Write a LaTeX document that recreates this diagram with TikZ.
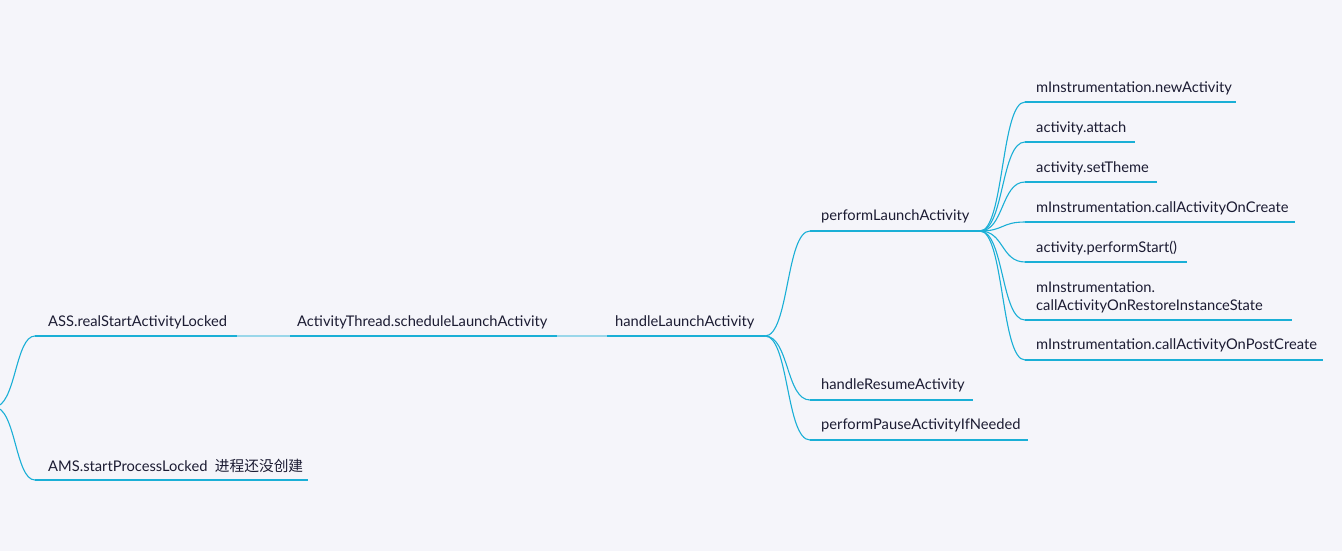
\documentclass[tikz,border=0pt]{standalone}
\usepackage{fontspec}
\setmainfont{Lato}
\newfontfamily\cjk{Noto Sans CJK SC}
\definecolor{bg}{HTML}{F5F5FA}
\definecolor{ln}{HTML}{1AAFD6}
\definecolor{lnfade}{HTML}{9AD7EA}
\definecolor{tx}{HTML}{1C1C33}
\tikzset{
  lbl/.style={anchor=west, inner sep=0pt, text=tx, font=\fontsize{14.7}{18}\selectfont, align=left},
  uline/.style={draw=ln, line width=1.2pt},
  conn/.style={draw=ln, line width=1.1pt},
  fade/.style={draw=lnfade, line width=1.2pt}
}
\begin{document}
\begin{tikzpicture}[x=1pt,y=-1pt]
\fill[bg] (0,0) rectangle (1342,551);
\useasboundingbox (0,0) rectangle (1342,551);
% root
\coordinate (root) at (-6,407);
% level 1
\node[lbl] (ass) at (48,322) {ASS.realStartActivityLocked};
\coordinate (assS) at (35,336); \coordinate (assE) at (237,336);
\node[lbl] (ams) at (48,466) {AMS.startProcessLocked\ \ {\cjk 进程还没创建}};
\coordinate (amsS) at (35,480); \coordinate (amsE) at (308,480);
% level 2
\node[lbl] (at) at (297,322) {ActivityThread.scheduleLaunchActivity};
\coordinate (atS) at (290,336); \coordinate (atE) at (557,336);
% level 3
\node[lbl] (hla) at (615,322) {handleLaunchActivity};
\coordinate (hlaS) at (607,336); \coordinate (hlaE) at (765,336);
% level 4
\node[lbl] (pla) at (821,216) {performLaunchActivity};
\coordinate (plaS) at (810,231); \coordinate (plaE) at (980,231);
\node[lbl] (hra) at (821,385) {handleResumeActivity};
\coordinate (hraS) at (810,400); \coordinate (hraE) at (973,400);
\node[lbl] (ppa) at (821,425) {performPauseActivityIfNeeded};
\coordinate (ppaS) at (810,440); \coordinate (ppaE) at (1028,440);
% level 5
\node[lbl] (c1) at (1036,88) {mInstrumentation.newActivity};
\coordinate (c1S) at (1025,102); \coordinate (c1E) at (1236,102);
\node[lbl] (c2) at (1036,128) {activity.attach};
\coordinate (c2S) at (1025,142); \coordinate (c2E) at (1135,142);
\node[lbl] (c3) at (1036,168) {activity.setTheme};
\coordinate (c3S) at (1025,182); \coordinate (c3E) at (1157,182);
\node[lbl] (c4) at (1036,208) {mInstrumentation.callActivityOnCreate};
\coordinate (c4S) at (1025,222); \coordinate (c4E) at (1295,222);
\node[lbl] (c5) at (1036,248) {activity.performStart()};
\coordinate (c5S) at (1025,262); \coordinate (c5E) at (1187,262);
\node[lbl] (c6) at (1036,297) {mInstrumentation.\\callActivityOnRestoreInstanceState};
\coordinate (c6S) at (1025,320); \coordinate (c6E) at (1292,320);
\node[lbl] (c7) at (1036,345) {mInstrumentation.callActivityOnPostCreate};
\coordinate (c7S) at (1025,360); \coordinate (c7E) at (1323,360);
% underlines
\foreach \n in {ass,ams,at,hla,pla,hra,ppa,c1,c2,c3,c4,c5,c6,c7}
  \draw[uline] (\n S) -- (\n E);
% connectors
\draw[conn] (root) .. controls +(22,0) and +(-20,0) .. (assS);
\draw[conn] (root) .. controls +(22,0) and +(-20,0) .. (amsS);
\draw[fade] (assE) -- (atS);
\draw[fade] (atE) -- (hlaS);
\foreach \n in {pla,hra,ppa}
  \draw[conn] (hlaE) .. controls +(24,0) and +(-24,0) .. (\n S);
\foreach \n in {c1,c2,c3,c4,c5,c6,c7}
  \draw[conn] (plaE) .. controls +(24,0) and +(-24,0) .. (\n S);
\end{tikzpicture}
\end{document}
